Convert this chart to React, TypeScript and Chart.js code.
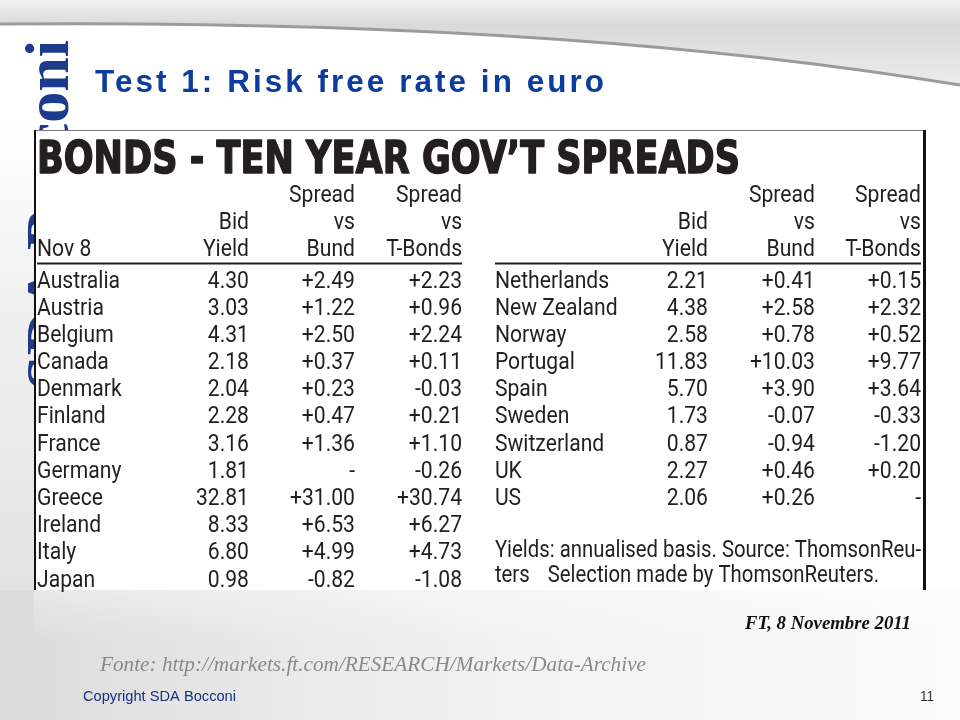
import React, { useEffect, useRef } from 'react';
import { Chart, registerables } from 'chart.js';

Chart.register(...registerables);

// ---------- data ----------
const slideTitle = 'Test 1: Risk free rate in euro';
const tableTitle = 'BONDS - TEN YEAR GOV\u2019T SPREADS';
const dateLabel = 'Nov 8';
const columnHeaders: string[][] = [
  ['Bid', 'Yield'],
  ['Spread', 'vs', 'Bund'],
  ['Spread', 'vs', 'T-Bonds'],
];

const countriesLeft = ['Australia', 'Austria', 'Belgium', 'Canada', 'Denmark', 'Finland', 'France', 'Germany', 'Greece', 'Ireland', 'Italy', 'Japan'];
const bidYieldLeft = [4.30, 3.03, 4.31, 2.18, 2.04, 2.28, 3.16, 1.81, 32.81, 8.33, 6.80, 0.98];
const spreadBundLeft: (number | null)[] = [2.49, 1.22, 2.50, 0.37, 0.23, 0.47, 1.36, null, 31.00, 6.53, 4.99, -0.82];
const spreadTBondsLeft: (number | null)[] = [2.23, 0.96, 2.24, 0.11, -0.03, 0.21, 1.10, -0.26, 30.74, 6.27, 4.73, -1.08];

const countriesRight = ['Netherlands', 'New Zealand', 'Norway', 'Portugal', 'Spain', 'Sweden', 'Switzerland', 'UK', 'US'];
const bidYieldRight = [2.21, 4.38, 2.58, 11.83, 5.70, 1.73, 0.87, 2.27, 2.06];
const spreadBundRight: (number | null)[] = [0.41, 2.58, 0.78, 10.03, 3.90, -0.07, -0.94, 0.46, 0.26];
const spreadTBondsRight: (number | null)[] = [0.15, 2.32, 0.52, 9.77, 3.64, -0.33, -1.20, 0.20, null];

const footnoteLine1 = 'Yields: annualised basis. Source: ThomsonReu-';
const footnoteLine2a = 'ters';
const footnoteLine2b = 'Selection made by ThomsonReuters.';

const sourceNote = 'FT, 8 Novembre 2011';
const fonteNote = 'Fonte: http://markets.ft.com/RESEARCH/Markets/Data-Archive';
const copyrightNote = 'Copyright SDA Bocconi';
const pageNumber = '11';
const logoText = 'SDA Bocconi';

// ---------- layout (not data) ----------
const COL_STOPS_LEFT = [0, 0.2398, 0.3597, 0.4808];
const COL_STOPS_RIGHT = [0.518, 0.759, 0.880, 1.0];
const INK = '#231f20';
const CELL_FONT = '24px Roboto';
const CELL_SX = 0.88;

const fmtYield = (v: number) => v.toFixed(2);
const fmtSpread = (v: number | null) => (v === null ? '-' : v > 0 ? '+' + v.toFixed(2) : v < 0 ? '-' + Math.abs(v).toFixed(2) : v.toFixed(2));

function drawScaled(ctx: CanvasRenderingContext2D, text: string, x: number, y: number, sx: number, align: CanvasTextAlign, strokeW = 0) {
  ctx.save();
  ctx.translate(x, y);
  ctx.scale(sx, 1);
  ctx.textAlign = align;
  ctx.textBaseline = 'alphabetic';
  ctx.fillText(text, 0, 0);
  if (strokeW > 0) {
    ctx.strokeStyle = ctx.fillStyle as string;
    ctx.lineWidth = strokeW;
    ctx.lineJoin = 'round';
    ctx.strokeText(text, 0, 0);
  }
  ctx.restore();
}

function drawFit(ctx: CanvasRenderingContext2D, text: string, x: number, y: number, width: number, align: CanvasTextAlign, strokeW = 0) {
  const w = ctx.measureText(text).width;
  drawScaled(ctx, text, x, y, width / w, align, strokeW);
}

function makeDataset(label: string, stop: number, texts: string[], align: string) {
  return {
    label,
    data: texts.map((_, i) => ({ x: stop, y: i })),
    texts,
    align,
    pointRadius: 0,
    pointHoverRadius: 0,
    showLine: false,
  } as any;
}

const slidePlugin = {
  id: 'slide',
  beforeDraw(chart: any) {
    const ctx: CanvasRenderingContext2D = chart.ctx;
    const W = chart.width;
    const H = chart.height;
    ctx.save();
    // background
    ctx.fillStyle = '#ffffff';
    ctx.fillRect(0, 0, W, H);
    const gl = ctx.createLinearGradient(0, 120, 0, 590);
    gl.addColorStop(0, 'rgba(225,225,225,0)');
    gl.addColorStop(0.4, 'rgba(225,225,225,0.5)');
    gl.addColorStop(1, 'rgba(215,215,215,0.7)');
    ctx.fillStyle = gl;
    ctx.fillRect(0, 120, 34, 470);
    const gb = ctx.createLinearGradient(0, 0, W, 0);
    gb.addColorStop(0, 'rgba(215,215,215,0.9)');
    gb.addColorStop(0.5, 'rgba(235,235,235,0.7)');
    gb.addColorStop(1, 'rgba(248,248,248,0.6)');
    ctx.fillStyle = gb;
    ctx.fillRect(0, 590, W, H - 590);
    const gv = ctx.createLinearGradient(0, 590, 0, 640);
    gv.addColorStop(0, 'rgba(255,255,255,0.35)');
    gv.addColorStop(1, 'rgba(255,255,255,0)');
    ctx.fillStyle = gv;
    ctx.fillRect(34, 590, W - 34, 50);

    // top band
    ctx.beginPath();
    ctx.moveTo(0, 0);
    ctx.lineTo(0, 23);
    ctx.quadraticCurveTo(560, 18, 960, 84);
    ctx.lineTo(960, 0);
    ctx.closePath();
    const gt = ctx.createLinearGradient(0, 0, 0, 84);
    gt.addColorStop(0, '#f2f2f2');
    gt.addColorStop(0.3, '#d9d9d9');
    gt.addColorStop(1, '#ececec');
    ctx.fillStyle = gt;
    ctx.fill();
    ctx.beginPath();
    ctx.moveTo(0, 24);
    ctx.quadraticCurveTo(560, 19, 960, 85);
    ctx.strokeStyle = '#9b9b9b';
    ctx.lineWidth = 3;
    ctx.stroke();

    // vertical logo
    ctx.save();
    ctx.translate(68, 40);
    ctx.rotate(-Math.PI / 2);
    ctx.font = 'bold 62px "Liberation Serif"';
    ctx.fillStyle = '#1c3b8c';
    ctx.textAlign = 'right';
    ctx.textBaseline = 'alphabetic';
    ctx.fillText(logoText, 0, 0);
    ctx.restore();

    // slide title
    ctx.font = 'bold 31px "Liberation Sans"';
    (ctx as any).letterSpacing = '3px';
    ctx.fillStyle = '#0b3c9e';
    drawFit(ctx, slideTitle, 95, 92, 512, 'left');
    (ctx as any).letterSpacing = '0px';

    // table box
    ctx.fillStyle = '#ffffff';
    ctx.fillRect(34, 130, 893, 460);
    ctx.strokeStyle = '#7a7a7a';
    ctx.lineWidth = 1;
    ctx.beginPath();
    ctx.moveTo(34, 130.5);
    ctx.lineTo(926, 130.5);
    ctx.stroke();
    ctx.strokeStyle = '#111111';
    ctx.lineWidth = 2;
    ctx.beginPath();
    ctx.moveTo(35, 130);
    ctx.lineTo(35, 590);
    ctx.stroke();
    ctx.lineWidth = 3;
    ctx.beginPath();
    ctx.moveTo(924.5, 130);
    ctx.lineTo(924.5, 590);
    ctx.stroke();

    // footers
    ctx.fillStyle = '#111111';
    ctx.font = 'bold italic 18px "Liberation Serif"';
    drawFit(ctx, sourceNote, 911, 629, 166, 'right');
    ctx.fillStyle = '#8a8a8a';
    ctx.font = 'italic 21px "Liberation Serif"';
    drawFit(ctx, fonteNote, 100, 671, 546, 'left');
    ctx.fillStyle = '#1a2f80';
    ctx.font = '15px "Liberation Sans"';
    drawFit(ctx, copyrightNote, 83, 701, 153, 'left');
    ctx.fillStyle = '#333333';
    ctx.font = '15px "Liberation Sans"';
    drawScaled(ctx, pageNumber, 934, 701, 0.9, 'right');
    ctx.restore();
  },
  afterDatasetsDraw(chart: any) {
    const ctx: CanvasRenderingContext2D = chart.ctx;
    const xs = chart.scales.x;
    const ys = chart.scales.y;
    const pitch = ys.getPixelForValue(1) - ys.getPixelForValue(0);
    const capOff = 8.5;
    ctx.save();
    ctx.fillStyle = INK;

    // table title
    ctx.font = 'bold 45px "DejaVu Sans"';
    drawFit(ctx, tableTitle, xs.getPixelForValue(0), ys.getPixelForValue(-4.5) + 16.5, 703, 'left', 1.6);

    // headers
    ctx.font = CELL_FONT;
    const halves = [COL_STOPS_LEFT, COL_STOPS_RIGHT];
    halves.forEach((stops, h) => {
      const baseY = ys.getPixelForValue(-1) - 4;
      if (h === 0) drawScaled(ctx, dateLabel, xs.getPixelForValue(stops[0]), baseY + capOff, CELL_SX, 'left');
      columnHeaders.forEach((lines, c) => {
        const xr = xs.getPixelForValue(stops[c + 1]);
        lines.forEach((line, k) => {
          const y = baseY - (lines.length - 1 - k) * pitch;
          drawScaled(ctx, line, xr, y + capOff, CELL_SX, 'right');
        });
      });
      // header rule
      const ry = Math.round(ys.getPixelForValue(-0.58)) + 0.5;
      ctx.strokeStyle = INK;
      ctx.lineWidth = 2;
      ctx.beginPath();
      ctx.moveTo(xs.getPixelForValue(stops[0]), ry);
      ctx.lineTo(xs.getPixelForValue(stops[3]), ry);
      ctx.stroke();
    });

    // cells
    chart.data.datasets.forEach((ds: any, i: number) => {
      const meta = chart.getDatasetMeta(i);
      meta.data.forEach((pt: any, j: number) => {
        drawScaled(ctx, ds.texts[j], pt.x, pt.y + capOff, CELL_SX, ds.align);
      });
    });

    // footnote
    const fx = xs.getPixelForValue(COL_STOPS_RIGHT[0]);
    const fw = xs.getPixelForValue(COL_STOPS_RIGHT[3]) - fx;
    const w1 = ctx.measureText(footnoteLine1).width;
    const fsx = fw / w1;
    drawScaled(ctx, footnoteLine1, fx, ys.getPixelForValue(9.9) + capOff, fsx, 'left');
    drawScaled(ctx, footnoteLine2a, fx, ys.getPixelForValue(10.85) + capOff, fsx, 'left');
    const w2 = ctx.measureText(footnoteLine2a).width * fsx;
    drawScaled(ctx, footnoteLine2b, fx + w2 + 18, ys.getPixelForValue(10.85) + capOff, fsx, 'left');
    ctx.restore();
  },
};

export default function App() {
  const canvasRef = useRef<HTMLCanvasElement | null>(null);

  useEffect(() => {
    if (!canvasRef.current) return;
    const datasets = [
      makeDataset('Country (left)', COL_STOPS_LEFT[0], countriesLeft, 'left'),
      makeDataset('Bid Yield (left)', COL_STOPS_LEFT[1], bidYieldLeft.map(fmtYield), 'right'),
      makeDataset('Spread vs Bund (left)', COL_STOPS_LEFT[2], spreadBundLeft.map(fmtSpread), 'right'),
      makeDataset('Spread vs T-Bonds (left)', COL_STOPS_LEFT[3], spreadTBondsLeft.map(fmtSpread), 'right'),
      makeDataset('Country (right)', COL_STOPS_RIGHT[0], countriesRight, 'left'),
      makeDataset('Bid Yield (right)', COL_STOPS_RIGHT[1], bidYieldRight.map(fmtYield), 'right'),
      makeDataset('Spread vs Bund (right)', COL_STOPS_RIGHT[2], spreadBundRight.map(fmtSpread), 'right'),
      makeDataset('Spread vs T-Bonds (right)', COL_STOPS_RIGHT[3], spreadTBondsRight.map(fmtSpread), 'right'),
    ];
    const chart = new Chart(canvasRef.current, {
      type: 'scatter',
      data: { datasets },
      options: {
        animation: false,
        responsive: false,
        maintainAspectRatio: false,
        events: [],
        layout: { padding: { left: 37, right: 39, top: 279, bottom: 142 } },
        scales: {
          x: { type: 'linear', min: 0, max: 1, display: false },
          y: { type: 'linear', min: 0, max: 11, reverse: true, display: false },
        },
        plugins: { legend: { display: false }, tooltip: { enabled: false }, title: { display: false } },
      },
      plugins: [slidePlugin],
    } as any);
    return () => chart.destroy();
  }, []);

  return (
    <div style={{ position: 'absolute', left: 0, top: 0, width: 960, height: 720, background: '#fff' }}>
      <canvas ref={canvasRef} width={960} height={720} style={{ display: 'block', width: 960, height: 720 }} />
    </div>
  );
}
